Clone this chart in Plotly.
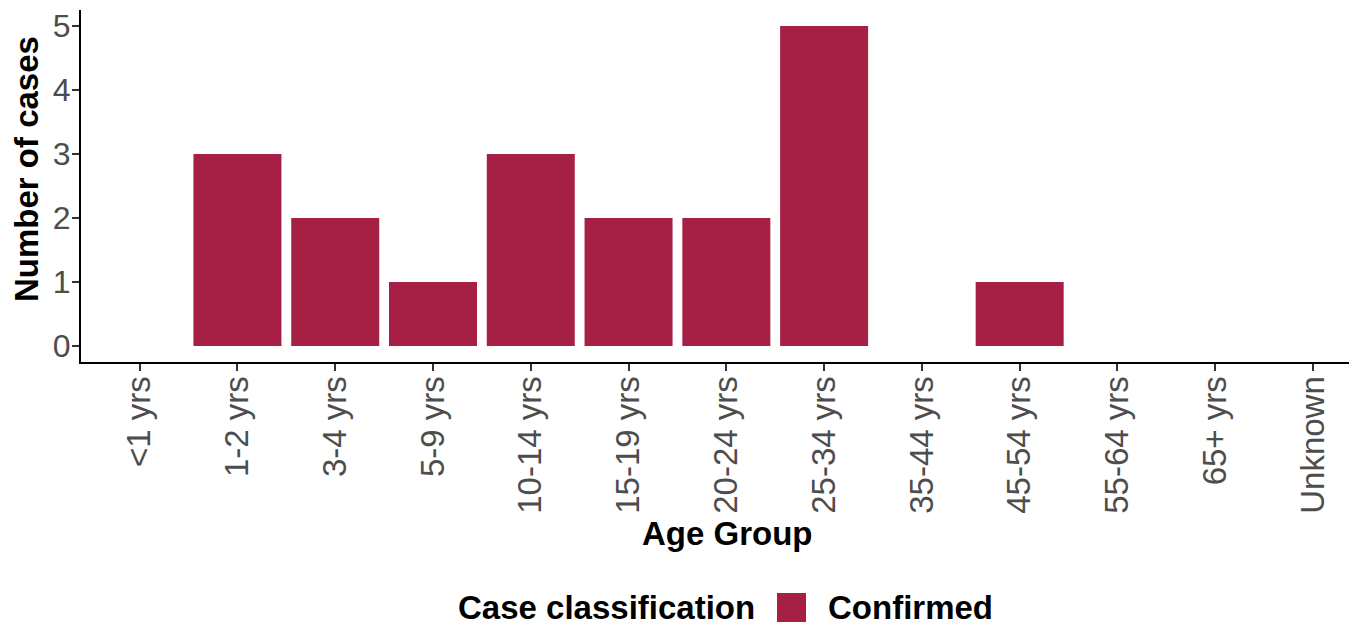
import plotly.graph_objects as go

age_groups = ["<1 yrs", "1-2 yrs", "3-4 yrs", "5-9 yrs", "10-14 yrs", "15-19 yrs",
              "20-24 yrs", "25-34 yrs", "35-44 yrs", "45-54 yrs", "55-64 yrs",
              "65+ yrs", "Unknown"]
confirmed = [0, 3, 2, 1, 3, 2, 2, 5, 0, 1, 0, 0, 0]
y_ticks = [0, 1, 2, 3, 4, 5]

BAR = "#A61F45"
FONT = "Liberation Sans, Arial, sans-serif"

OFF = 8  # page body margin
W, H = 1357 - OFF, 628 - OFF
L, R, T = 81 - OFF, 0, 10 - OFF
B = H - T - 352
pw, ph = W - L - R, H - T - B

def px(x):
    return (x - OFF - L) / pw

def py(y):
    return (H - B - (y - OFF)) / ph

fig = go.Figure()
fig.add_trace(go.Bar(
    x=age_groups, y=confirmed, name="Confirmed",
    marker=dict(color=BAR, line=dict(width=0)),
    width=0.9, showlegend=False,
))

fig.update_layout(
    width=W, height=H,
    margin=dict(l=L, r=R, t=T, b=B),
    plot_bgcolor="white", paper_bgcolor="white",
    font=dict(family=FONT, color="#4D4D4D"),
    bargap=0.1,
    xaxis=dict(
        type="category", categoryorder="array", categoryarray=age_groups,
        range=[-0.6, 12.45], showline=True, linecolor="black", linewidth=2,
        ticks="outside", ticklen=7, tickwidth=1.5, tickcolor="#333333",
        tickangle=-90, tickfont=dict(size=33, color="#4D4D4D"),
        ticklabelstandoff=-8,
        showgrid=False, zeroline=False,
    ),
    yaxis=dict(
        range=[-0.25, 5.25], tickvals=y_ticks, showline=True, linecolor="black",
        linewidth=2, ticks="outside", ticklen=7, tickwidth=1.5, tickcolor="#333333",
        tickfont=dict(size=32, color="#4D4D4D"), ticklabelstandoff=-5,
        showgrid=False, zeroline=False,
    ),
)

TF = dict(size=33, color="black", family=FONT)
# axis titles
fig.add_annotation(text="<b>Age Group</b>", xref="paper", yref="paper",
                   x=px(727), y=py(533), showarrow=False, font=TF,
                   xanchor="center", yanchor="middle")
fig.add_annotation(text="<b>Number of cases</b>", xref="paper", yref="paper",
                   x=px(26), y=py(169), showarrow=False, textangle=-90, font=TF,
                   xanchor="center", yanchor="middle")

# legend
fig.add_annotation(text="<b>Case classification</b>", xref="paper", yref="paper",
                   x=px(757), y=py(607), showarrow=False, font=TF,
                   xanchor="right", yanchor="middle")
fig.add_shape(type="rect", xref="paper", yref="paper",
              x0=px(777), x1=px(806), y0=py(622), y1=py(593),
              fillcolor=BAR, line=dict(width=0))
fig.add_annotation(text="<b>Confirmed</b>", xref="paper", yref="paper",
                   x=px(826), y=py(607), showarrow=False, font=TF,
                   xanchor="left", yanchor="middle")

fig.write_html("out.html")
